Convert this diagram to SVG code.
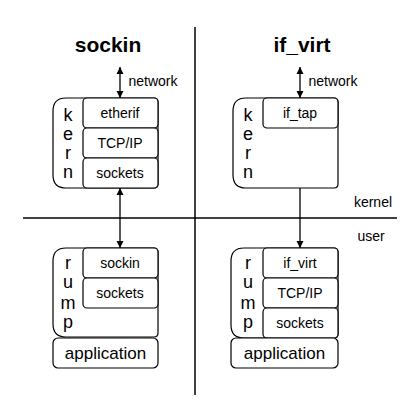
<svg xmlns="http://www.w3.org/2000/svg" width="420" height="420" viewBox="0 0 420 420">
<defs>
<marker id="ah" viewBox="0 0 10 10" refX="10" refY="5" markerWidth="7" markerHeight="9" markerUnits="userSpaceOnUse" orient="auto-start-reverse">
<path d="M0,0 L10,5 L0,10 z" fill="#000"/>
</marker>
<style>
.box{fill:#fff;stroke:#000;stroke-width:1.2}
.t{font-family:"Liberation Sans",Arial,sans-serif;fill:#000;text-anchor:middle}
.s{font-size:14px}
.l{font-size:17px}
.k{font-size:18px}
.title{font-size:21px;font-weight:bold}
.ln{stroke:#000;stroke-width:1.5;fill:none}
.ar{stroke:#000;stroke-width:1.3;fill:none;marker-start:url(#ah);marker-end:url(#ah)}
</style>
</defs>
<rect width="420" height="420" fill="#fff"/>
<g id="dividers">
<line class="ln" x1="195" y1="27" x2="195" y2="395"/>
<line class="ln" x1="23" y1="218" x2="397" y2="218"/>
</g>
<g id="labels">
<text class="t title" x="108" y="52">sockin</text>
<text class="t title" x="302" y="52">if_virt</text>
<text class="t s" x="373" y="207">kernel</text>
<text class="t s" x="371" y="241">user</text>
</g>
<g id="connectors">
<line class="ar" x1="120" y1="67" x2="120" y2="98"/>
<text class="t s" x="153" y="86">network</text>
<line class="ar" x1="300" y1="67" x2="300" y2="98"/>
<text class="t s" x="333" y="86">network</text>
<line class="ar" x1="120" y1="188" x2="120" y2="248"/>
<line class="ar" x1="300" y1="128" x2="300" y2="248"/>
</g>
<g id="kern-left">
<path class="box" d="M66,98 H154 Q158,98 158,102 V184 Q158,188 154,188 H66 Q53,188 53,175 V111 Q53,98 66,98 Z"/>
<text class="t k" x="68" y="121">k</text>
<text class="t k" x="68" y="140">e</text>
<text class="t k" x="68" y="159">r</text>
<text class="t k" x="68" y="178">n</text>
<g id="etherif-left"><rect class="box" x="83" y="98" width="75" height="30" rx="4"/><text class="t s" x="120" y="118">etherif</text></g>
<g id="tcpip-left"><rect class="box" x="83" y="128" width="75" height="30" rx="4"/><text class="t s" x="120" y="148">TCP/IP</text></g>
<g id="sockets-kern-left"><rect class="box" x="83" y="158" width="75" height="30" rx="4"/><text class="t s" x="120" y="178">sockets</text></g>
</g>
<g id="rump-left">
<path class="box" d="M66,248 H154 Q158,248 158,252 V333 Q158,337 154,337 H66 Q53,337 53,324 V261 Q53,248 66,248 Z"/>
<text class="t k" x="68" y="269">r</text>
<text class="t k" x="68" y="288">u</text>
<text class="t k" x="68" y="309">m</text>
<text class="t k" x="68" y="328">p</text>
<g id="sockin-left"><rect class="box" x="83" y="248" width="75" height="30" rx="4"/><text class="t s" x="120" y="268">sockin</text></g>
<g id="sockets-rump-left"><rect class="box" x="83" y="278" width="75" height="30" rx="4"/><text class="t s" x="120" y="298">sockets</text></g>
</g>
<g id="app-left">
<rect class="box" x="53" y="338" width="105" height="30" rx="5"/>
<text class="t l" x="105.5" y="359">application</text>
</g>
<g id="kern-right">
<path class="box" d="M246,98 H334 Q338,98 338,102 V184 Q338,188 334,188 H246 Q233,188 233,175 V111 Q233,98 246,98 Z"/>
<text class="t k" x="248" y="121">k</text>
<text class="t k" x="248" y="140">e</text>
<text class="t k" x="248" y="159">r</text>
<text class="t k" x="248" y="178">n</text>
<g id="if_tap"><rect class="box" x="263" y="98" width="75" height="30" rx="4"/><text class="t s" x="300" y="118">if_tap</text></g>
</g>
<g id="rump-right">
<path class="box" d="M244,248 H334 Q338,248 338,252 V334 Q338,338 334,338 H244 Q231,338 231,325 V261 Q231,248 244,248 Z"/>
<text class="t k" x="248" y="269">r</text>
<text class="t k" x="248" y="288">u</text>
<text class="t k" x="248" y="309">m</text>
<text class="t k" x="248" y="328">p</text>
<g id="if_virt-right"><rect class="box" x="263" y="248" width="75" height="30" rx="4"/><text class="t s" x="300" y="268">if_virt</text></g>
<g id="tcpip-right"><rect class="box" x="263" y="278" width="75" height="30" rx="4"/><text class="t s" x="300" y="298">TCP/IP</text></g>
<g id="sockets-right"><rect class="box" x="263" y="308" width="75" height="30" rx="4"/><text class="t s" x="300" y="328">sockets</text></g>
</g>
<g id="app-right">
<rect class="box" x="231" y="338" width="107" height="30" rx="5"/>
<text class="t l" x="284.5" y="359">application</text>
</g>
</svg>
